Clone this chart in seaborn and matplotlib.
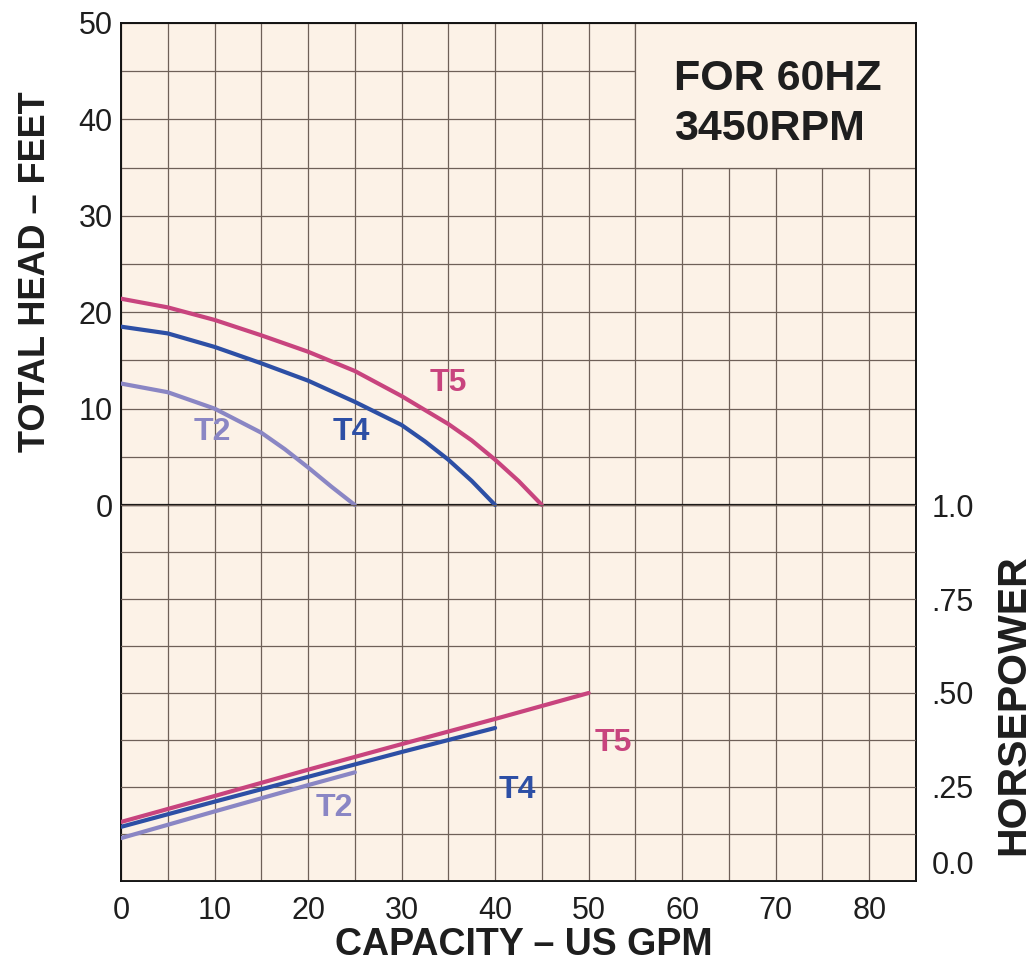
import numpy as np
import pandas as pd
import matplotlib
matplotlib.use("Agg")
import matplotlib.pyplot as plt
from matplotlib.patches import Rectangle
import seaborn as sns

# ---------------- data ----------------
head_gpm_T5 = [0, 5, 10, 15, 20, 25, 30, 35, 37.5, 40, 42.5, 45]
head_ft_T5 = [21.4, 20.5, 19.2, 17.6, 15.9, 13.9, 11.3, 8.4, 6.7, 4.7, 2.5, 0.0]
head_gpm_T4 = [0, 5, 10, 15, 20, 25, 30, 32.5, 35, 37.5, 40]
head_ft_T4 = [18.5, 17.8, 16.4, 14.7, 12.9, 10.7, 8.3, 6.6, 4.7, 2.5, 0.0]
head_gpm_T2 = [0, 5, 10, 15, 17.5, 20, 22.5, 25]
head_ft_T2 = [12.6, 11.7, 10.0, 7.5, 5.8, 3.9, 1.9, 0.0]

hp_gpm_T5 = [0, 10, 20, 30, 40, 50]
hp_T5 = [0.157, 0.226, 0.296, 0.364, 0.431, 0.50]
hp_gpm_T4 = [0, 10, 20, 30, 40]
hp_T4 = [0.144, 0.211, 0.277, 0.343, 0.407]
hp_gpm_T2 = [0, 10, 20, 25]
hp_T2 = [0.114, 0.185, 0.255, 0.289]

models = ["T5", "T4", "T2"]
colors = {"T5": "#C8447E", "T4": "#2D4FA5", "T2": "#8A86C4"}

x_ticks = [0, 10, 20, 30, 40, 50, 60, 70, 80]
head_ticks = [0, 10, 20, 30, 40, 50]
hp_ticks = [0.0, 0.25, 0.50, 0.75, 1.0]
hp_tick_labels = ["0.0", ".25", ".50", ".75", "1.0"]

note_text = "FOR 60HZ\n3450RPM"
x_label = "CAPACITY – US GPM"
y_label = "TOTAL HEAD – FEET"
y2_label = "HORSEPOWER"

head_df = pd.concat([
    pd.DataFrame({"gpm": head_gpm_T5, "value": head_ft_T5, "model": "T5"}),
    pd.DataFrame({"gpm": head_gpm_T4, "value": head_ft_T4, "model": "T4"}),
    pd.DataFrame({"gpm": head_gpm_T2, "value": head_ft_T2, "model": "T2"}),
])
hp_df = pd.concat([
    pd.DataFrame({"gpm": hp_gpm_T5, "value": hp_T5, "model": "T5"}),
    pd.DataFrame({"gpm": hp_gpm_T4, "value": hp_T4, "model": "T4"}),
    pd.DataFrame({"gpm": hp_gpm_T2, "value": hp_T2, "model": "T2"}),
])

# ---------------- style ----------------
sns.set_theme(style="white")
plt.rcParams["font.family"] = ["Liberation Sans", "DejaVu Sans"]

bg = "#FCF2E7"
grid_c = "#6E6058"
text_c = "#1E1E1E"

fig = plt.figure(figsize=(10.30, 9.66), dpi=100)
fig.patch.set_facecolor("white")
ax = fig.add_axes([0.1175, 0.088, 0.7718, 0.8882])
ax.set_facecolor(bg)
ax2 = ax.twinx()

# axis ranges: 0 ft and 1.0 HP share the same height
ax.set_xlim(0, 85)
ax.set_ylim(-39.0, 50)
ax2.set_ylim(0, 2.282)

# grid: vertical every 5 GPM, head every 5 ft (upper), hp every 0.125 (lower)
ax.set_xticks(x_ticks)
ax.set_xticks(np.arange(5, 86, 10), minor=True)
ax.set_yticks(head_ticks)
ax.set_yticks(np.arange(5, 50, 10), minor=True)
ax2.set_yticks(hp_ticks)
ax2.set_yticks(np.arange(0.125, 1.0, 0.25), minor=True)
ax2.set_yticklabels(hp_tick_labels)

for a in (ax, ax2):
    a.grid(True, which="both", color=grid_c, linewidth=0.9)
    a.set_axisbelow(True)
ax2.grid(False, axis="x", which="both")
ax.grid(True, which="both", axis="x", color=grid_c, linewidth=0.9)

# note box covering the grid in upper right
ax.add_patch(Rectangle((55, 35), 30, 15, facecolor=bg, edgecolor=grid_c,
                       linewidth=0.9, zorder=1.5))
ax.text(59.1, 41.6, note_text, ha="left", va="center", fontsize=31,
        fontweight="bold", color=text_c, linespacing=1.3, zorder=3)

# zero head line
ax.axhline(0, color="#111111", linewidth=1.6, zorder=2.5)

# curves
sns.lineplot(data=head_df, x="gpm", y="value", hue="model", hue_order=models,
             palette=colors, linewidth=3.0, ax=ax, legend=False, sort=False,
             zorder=4)
sns.lineplot(data=hp_df, x="gpm", y="value", hue="model", hue_order=models,
             palette=colors, linewidth=3.0, ax=ax2, legend=False, sort=False,
             zorder=4)

# curve labels
lab_kw = dict(fontsize=23, fontweight="bold", ha="center", va="center")
ax.text(35.0, 12.7, "T5", color=colors["T5"], **lab_kw)
ax.text(24.6, 7.6, "T4", color=colors["T4"], **lab_kw)
ax.text(9.8, 7.6, "T2", color=colors["T2"], **lab_kw)
ax2.text(52.6, 0.367, "T5", color=colors["T5"], **lab_kw)
ax2.text(42.4, 0.242, "T4", color=colors["T4"], **lab_kw)
ax2.text(22.8, 0.194, "T2", color=colors["T2"], **lab_kw)

# ticks
ax.tick_params(axis="both", which="both", length=0)
ax2.tick_params(axis="both", which="both", length=0)
ax.tick_params(axis="x", labelsize=22, pad=11, labelcolor=text_c)
ax.tick_params(axis="y", labelsize=22, pad=6, labelcolor=text_c)
ax2.tick_params(axis="y", labelsize=22, pad=11, labelcolor=text_c)
for lab in ax2.get_yticklabels():
    if lab.get_text() == "0.0":
        lab.set_va("bottom")

# spines
for s in ax.spines.values():
    s.set_visible(True)
    s.set_color("#111111")
    s.set_linewidth(1.4)
for s in ax2.spines.values():
    s.set_visible(False)

# axis labels
ax.set_xlabel(x_label, fontsize=27, fontweight="bold", color=text_c,
              ha="center", va="center")
ax.xaxis.set_label_coords(0.507, -0.0746)
ax.set_ylabel(y_label, fontsize=26, fontweight="bold", color=text_c,
              ha="center", va="center")
ax.yaxis.set_label_coords(-0.108, 0.71)
ax2.set_ylabel(y2_label, fontsize=29.5, fontweight="bold", color=text_c,
               ha="center", va="center", rotation=90)
ax2.yaxis.set_label_coords(1.122, 0.205)

fig.savefig("out.png", dpi=100, facecolor="white")
